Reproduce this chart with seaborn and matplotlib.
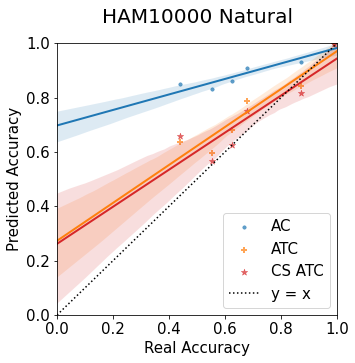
import matplotlib
matplotlib.use("Agg")
import matplotlib.pyplot as plt
import numpy as np
import pandas as pd
import seaborn as sns

# Real vs predicted accuracy
real_acc = [0.44, 0.555, 0.626, 0.68, 0.87, 0.99]
ac_pred = [0.848, 0.830, 0.859, 0.908, 0.929, 0.996]
atc_pred = [0.636, 0.597, 0.680, 0.787, 0.842, 1.0]
cs_atc_pred = [0.658, 0.566, 0.625, 0.750, 0.815, 0.995]

methods = ["AC", "ATC", "CS ATC"]
markers = ["o", "+", "*"]
colors = ["tab:blue", "tab:orange", "tab:red"]
sizes = [12, 45, 45]

df = pd.DataFrame({"real": real_acc, "AC": ac_pred, "ATC": atc_pred, "CS ATC": cs_atc_pred})

fig = plt.figure(figsize=(355 / 72, 363 / 72), dpi=72)
ax = fig.add_axes([0.1606, 0.1322, 0.789, 0.749])
ax.set_xlim(0, 1)
ax.set_ylim(0, 1)

for name, mk, col, sz in zip(methods, markers, colors, sizes):
    sns.regplot(
        data=df, x="real", y=name, ax=ax, marker=mk, color=col, truncate=False,
        ci=80, seed=0, label=name,
        scatter_kws={"s": sz, "alpha": 0.7, "linewidths": 2 if mk == "+" else 0.5},
        line_kws={"linewidth": 2},
    )

ax.plot([0, 1], [0, 1], linestyle=":", color="black", linewidth=1.5, label="y = x")

ax.set_xlim(0, 1)
ax.set_ylim(0, 1)
ax.set_xticks(np.arange(0, 1.01, 0.2))
ax.set_yticks(np.arange(0, 1.01, 0.2))
ax.tick_params(labelsize=15)
ax.set_xlabel("Real Accuracy", fontsize=15)
ax.set_ylabel("Predicted Accuracy", fontsize=15)
ax.set_title("HAM10000 Natural", fontsize=20, pad=20)

handles, labels = ax.get_legend_handles_labels()
ax.legend(handles, labels, loc="lower right", fontsize=15)

fig.savefig("out.png", dpi=72, facecolor="white")
